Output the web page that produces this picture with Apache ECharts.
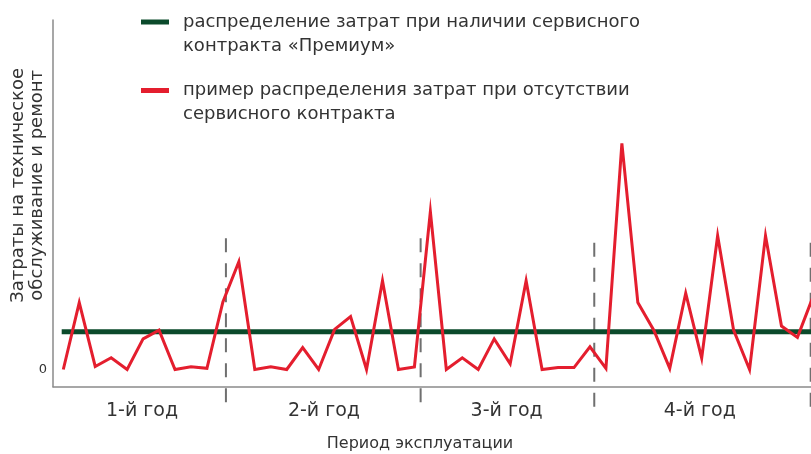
<!DOCTYPE html>
<html><head><meta charset="utf-8">
<script src="https://cdn.jsdelivr.net/npm/echarts@6/dist/echarts.min.js"></script>
<style>html,body{margin:0;padding:0;background:#fff}#c{width:811px;height:454px}</style>
</head><body><div id="c"></div>
<script>
// ---- data ----
const seriesNames = [
  'распределение затрат при наличии сервисного\nконтракта «Премиум»',
  'пример распределения затрат при отсутствии\nсервисного контракта'
];
const periodIndex = [0,1,2,3,4,5,6,7,8,9,10,11,12,13,14,15,16,17,18,19,20,21,22,23,
  24,25,26,27,28,29,30,31,32,33,34,35,36,37,38,39,40,41,42,43,44,45,46,47];
const costWithoutContract = [0, 17.7, 0.8, 3.1, 0, 8.1, 10.4, 0, 0.7, 0.3, 17.9, 28.5,
  0, 0.7, 0, 5.8, 0, 10.6, 14.0, 0, 23.5, 0, 0.7, 41.8,
  0, 3.1, 0, 8.1, 1.5, 23.5, 0, 0.5, 0.5, 6.0, 0.3, 59.8,
  17.7, 10.4, 0.3, 20.2, 3.0, 35.4, 10.4, 0, 35.4, 11.5, 8.5, 19.5];
const premiumPeriod = [-0.1, 47];
const premiumCost = [10, 10];
const yearLabels = ['1-й год', '2-й год', '3-й год', '4-й год'];
const yearLabelPos = [4.93, 16.33, 27.78, 39.88];
const yearBoundaries = [10.19, 22.39, 33.27, 46.83];
const boundaryTop = [34.7, 34.7, 33.5, 33.5];
const boundaryBottom = [-9.8, -9.8, -10.7, -10.7];
const yTickValues = [0];
const yTickLabels = ['0'];

// ---- chart ----
const FONT = 'DejaVu Sans';
const TXT = '#333333';
const chart = echarts.init(document.getElementById('c'), null, {renderer: 'canvas'});
chart.setOption({
  animation: false,
  backgroundColor: '#ffffff',
  textStyle: {fontFamily: FONT},
  grid: {left: 53, right: 0, top: 20, bottom: 67.3, containLabel: false, outerBoundsMode: 'none'},
  legend: {
    orient: 'vertical', left: 141, top: -14, padding: 0,
    itemWidth: 28, itemHeight: 5, itemGap: -3.5, icon: 'rect',
    data: seriesNames,
    formatter: n => '\n' + n,
    textStyle: {fontFamily: FONT, fontSize: 18, lineHeight: 24, color: TXT, padding: [0, 0, 0, 9]},
    selectedMode: false
  },
  xAxis: {
    type: 'value', min: -0.645, max: 46.85,
    axisLine: {show: true, onZero: false, lineStyle: {color: '#8a8a8a', width: 1.5}},
    axisTick: {show: false},
    splitLine: {show: false},
    axisLabel: {
      customValues: yearLabelPos,
      formatter: v => {
        let best = 0;
        yearLabelPos.forEach((p, i) => { if (Math.abs(p - v) < Math.abs(yearLabelPos[best] - v)) best = i; });
        return yearLabels[best];
      },
      fontFamily: FONT, fontSize: 19, lineHeight: 19, color: TXT, margin: 15
    },
    name: 'Период эксплуатации', nameLocation: 'middle', nameGap: 49, nameMoveOverlap: false,
    nameTextStyle: {fontFamily: FONT, fontSize: 16, lineHeight: 16, color: TXT, padding: [0, 24, 0, 0]}
  },
  yAxis: {
    type: 'value', min: -4.55, max: 92.46,
    axisLine: {show: true, onZero: false, lineStyle: {color: '#8a8a8a', width: 1.5}},
    axisTick: {show: false},
    splitLine: {show: false},
    axisLabel: {
      customValues: yTickValues,
      formatter: v => yTickLabels[yTickValues.indexOf(v)] ?? String(v),
      fontFamily: FONT, fontSize: 13, color: TXT, margin: 6, padding: [0, 0, 3, 0]
    },
    name: 'Затраты на техническое\nобслуживание и ремонт',
    nameLocation: 'middle', nameRotate: 90, nameGap: 6, nameMoveOverlap: false,
    nameTextStyle: {fontFamily: FONT, fontSize: 18, lineHeight: 19, color: TXT, padding: [0, 0, 0, 36]}
  },
  series: [
    {
      name: 'year boundaries', type: 'custom', silent: true, clip: false, z: 1,
      data: yearBoundaries.map((x, i) => [x, boundaryTop[i], boundaryBottom[i]]),
      renderItem: (params, api) => {
        const p1 = api.coord([api.value(0), api.value(1)]);
        const p2 = api.coord([api.value(0), api.value(2)]);
        return {
          type: 'line',
          shape: {x1: p1[0], y1: p1[1], x2: p2[0], y2: p2[1]},
          style: {stroke: '#6f6f6f', lineWidth: 2, lineDash: [14, 11], fill: null}
        };
      }
    },
    {
      name: seriesNames[0], type: 'line', symbol: 'none', silent: true, clip: false,
      data: premiumPeriod.map((x, i) => [x, premiumCost[i]]),
      lineStyle: {color: '#0b4a2b', width: 5}, itemStyle: {color: '#0b4a2b'}, z: 2
    },
    {
      name: seriesNames[1], type: 'line', symbol: 'none', silent: true,
      data: periodIndex.map((x, i) => [x, costWithoutContract[i]]),
      lineStyle: {color: '#e41e2e', width: 3, join: 'miter'}, itemStyle: {color: '#e41e2e'}, z: 3
    }
  ]
});
</script>
</body></html>
